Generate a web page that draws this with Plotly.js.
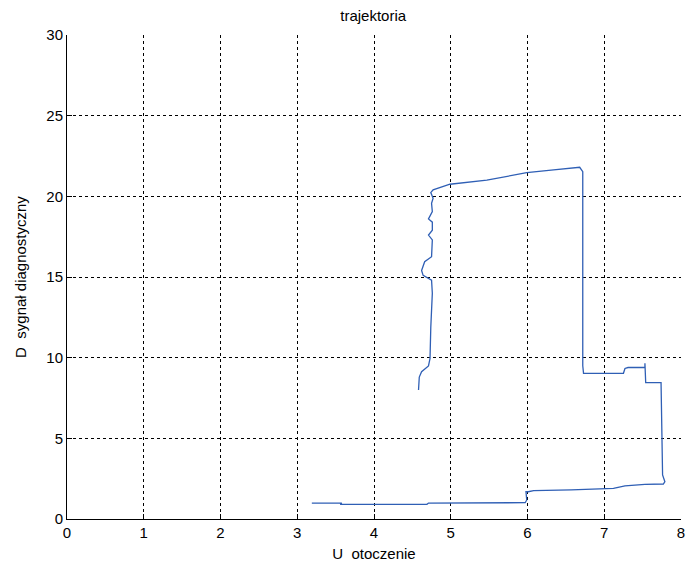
<!DOCTYPE html>
<html>
<head>
<meta charset="utf-8">
<script src="https://cdn.plot.ly/plotly-3.0.1.min.js"></script>
<style>html,body{margin:0;padding:0;background:#fff;}#chart{width:686px;height:571px;}</style>
</head>
<body>
<div id="chart"></div>
<script>
const uOtoczenie = [3.19,3.58,3.56,4.69,4.71,5.97,5.99,5.98,6.01,6.08,6.57,7.12,7.27,7.53,7.77,7.79,7.76,7.75,7.74,7.54,7.53,7.53,7.51,7.31,7.27,7.25,6.73,6.72,6.72,6.68,6.34,5.99,5.47,4.99,4.77,4.74,4.77,4.75,4.76,4.71,4.76,4.76,4.71,4.76,4.75,4.66,4.62,4.64,4.75,4.76,4.74,4.73,4.71,4.62,4.59,4.58];
const dSygnal = [0.99,0.99,0.91,0.91,0.99,1.01,1.18,1.69,1.69,1.76,1.80,1.90,2.05,2.14,2.17,2.31,2.73,6.96,8.45,8.45,9.65,9.39,9.39,9.39,9.33,9.03,9.03,9.5,21.53,21.8,21.64,21.47,21.0,20.75,20.4,20.23,19.88,19.57,19.05,18.6,18.4,17.9,17.6,17.3,16.26,15.95,15.4,15.1,14.8,14.0,11.9,9.96,9.49,9.13,8.8,8.0];
const xTicks = [0,1,2,3,4,5,6,7,8];
const yTicks = [0,5,10,15,20,25,30];

const font = {family: "'Liberation Sans', Arial, sans-serif", size: 15, color: '#000'};

Plotly.newPlot('chart', [{
  x: uOtoczenie, y: dSygnal, type: 'scatter', mode: 'lines',
  line: {color: '#2f5fb5', width: 1.3}, hoverinfo: 'none'
}], {
  width: 686, height: 571,
  margin: {l: 67, r: 5, t: 35, b: 52},
  paper_bgcolor: '#fff', plot_bgcolor: '#fff',
  showlegend: false,
  font: font,
  title: {text: 'trajektoria', font: {family: font.family, size: 15, color: '#000'}, x: 0.544, xanchor: 'center', y: 0.972, yanchor: 'middle'},
  xaxis: {
    range: [0, 8], tickvals: xTicks, ticktext: xTicks.map(String),
    showgrid: true, gridcolor: '#000', griddash: '3px,3px', gridwidth: 1,
    zeroline: false, showline: true, linecolor: '#000', linewidth: 1,
    ticks: 'inside', ticklen: 5, tickcolor: '#000',
    title: {text: 'U  otoczenie', font: font, standoff: 8},
    tickfont: font
  },
  yaxis: {
    range: [0, 30], tickvals: yTicks, ticktext: yTicks.map(String),
    showgrid: true, gridcolor: '#000', griddash: '3px,3px', gridwidth: 1,
    zeroline: false, showline: true, linecolor: '#000', linewidth: 1,
    ticks: 'inside', ticklen: 5, tickcolor: '#000',
    title: {text: 'D  sygnał diagnostyczny', font: font, standoff: 16},
    tickfont: font
  }
}, {staticPlot: true});
</script>
</body>
</html>
